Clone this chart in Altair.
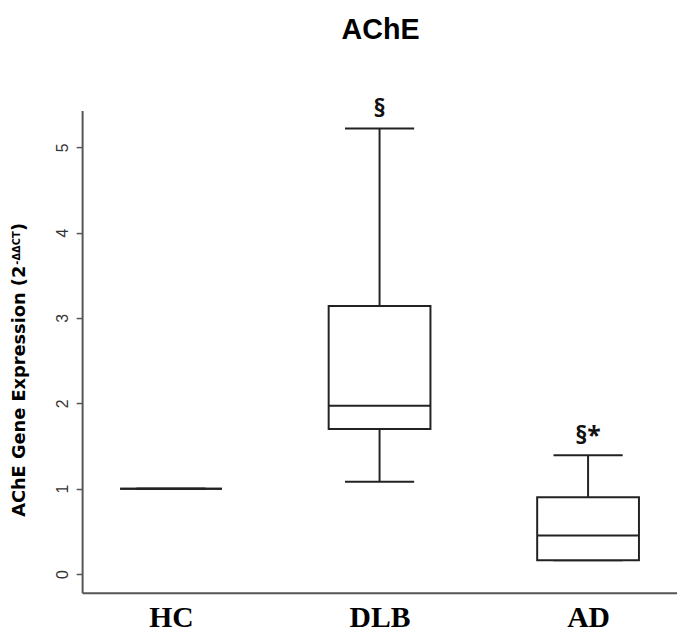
import altair as alt
import pandas as pd

# ---- data ----
groups = ["HC", "DLB", "AD"]
whisker_low = [1.0, 1.08, 0.16]
q1 = [1.0, 1.70, 0.16]
median = [1.0, 1.97, 0.45]
q3 = [1.0, 3.14, 0.90]
whisker_high = [1.0, 5.22, 1.39]
signif = ["", "§", "§*"]
y_ticks = [0, 1, 2, 3, 4, 5]

df = pd.DataFrame({
    "group": groups,
    "lo": whisker_low,
    "q1": q1,
    "med": median,
    "q3": q3,
    "hi": whisker_high,
    "sig": signif,
})

LINE = "#222222"
AXIS = "#555555"

x = alt.X(
    "group:N",
    sort=groups,
    scale=alt.Scale(type="point", padding=0.4265),
    axis=alt.Axis(
        title=None, labelAngle=0, ticks=False, grid=False,
        domainColor=AXIS, domainWidth=2,
        labelFont="Liberation Serif", labelFontWeight="bold",
        labelFontSize=30, labelColor="#000000",
        labelBaseline="alphabetic", labelPadding=34,
    ),
)
y_scale = alt.Scale(domain=[-0.22, 5.43], nice=False, zero=False)
y_axis = alt.Axis(
    title=None, values=y_ticks, grid=False,
    tickSize=6, tickColor=AXIS, tickWidth=1.5,
    domainColor=AXIS, domainWidth=2,
    labelAngle=270, labelAlign="center", labelBaseline="alphabetic",
    labelPadding=9, labelFont="Liberation Sans", labelFontSize=16,
    labelColor="#333333",
)

def Y(field):
    return alt.Y(field, scale=y_scale, axis=y_axis, title=None)

base = alt.Chart(df)

box = base.mark_bar(size=103, fill="white", stroke=LINE, strokeWidth=2).encode(
    x=x, y=Y("q1:Q"), y2="q3:Q"
)
upper = base.mark_rule(color=LINE, strokeWidth=2).encode(x=x, y=Y("q3:Q"), y2="hi:Q")
lower = base.mark_rule(color=LINE, strokeWidth=2).encode(x=x, y=Y("lo:Q"), y2="q1:Q")
cap_hi = base.mark_tick(size=70, thickness=2, color=LINE, opacity=1, orient="horizontal").encode(x=x, y=Y("hi:Q"))
cap_lo = base.mark_tick(size=70, thickness=2, color=LINE, opacity=1, orient="horizontal").encode(x=x, y=Y("lo:Q"))
med = base.mark_tick(size=103, thickness=2, color=LINE, opacity=1, orient="horizontal").encode(x=x, y=Y("med:Q"))
sig = base.mark_text(
    font="Open Sans", fontWeight="bold", fontSize=25, dy=-12,
    baseline="alphabetic", color="#111111",
).encode(x=x, y=Y("hi:Q"), text="sig:N")

# ---- titles as text ----
title = alt.Chart(pd.DataFrame({"t": ["AChE"]})).mark_text(
    font="Liberation Sans", fontWeight="bold", fontSize=29, baseline="alphabetic",
    align="center", color="#000000",
).encode(text="t:N", x=alt.value(302), y=alt.value(-72))

ytitle_main = alt.Chart(pd.DataFrame({"t": ["AChE Gene Expression (2"]})).mark_text(
    font="DejaVu Sans", fontWeight="bold", fontSize=18, angle=270,
    align="right", baseline="alphabetic", color="#000000",
).encode(text="t:N", x=alt.value(-58), y=alt.value(157))

ytitle_sup = alt.Chart(pd.DataFrame({"t": ["-ΔΔCT"]})).mark_text(
    font="DejaVu Sans", fontWeight="bold", fontSize=10, angle=270,
    align="left", baseline="alphabetic", color="#000000",
).encode(text="t:N", x=alt.value(-63), y=alt.value(156))

ytitle_close = alt.Chart(pd.DataFrame({"t": [")"]})).mark_text(
    font="DejaVu Sans", fontWeight="bold", fontSize=18, angle=270,
    align="left", baseline="alphabetic", color="#000000",
).encode(text="t:N", x=alt.value(-58), y=alt.value(122))

chart = alt.layer(
    upper, lower, cap_hi, cap_lo, box, med, sig,
    title, ytitle_main, ytitle_sup, ytitle_close,
).properties(
    width=602, height=488,
    autosize=alt.AutoSizeParams(type="none"),
    padding={"left": 75, "top": 100, "right": 0, "bottom": 42},
).configure_view(stroke=None)

chart.save("out.html", embed_options={"renderer": "svg", "actions": False})
